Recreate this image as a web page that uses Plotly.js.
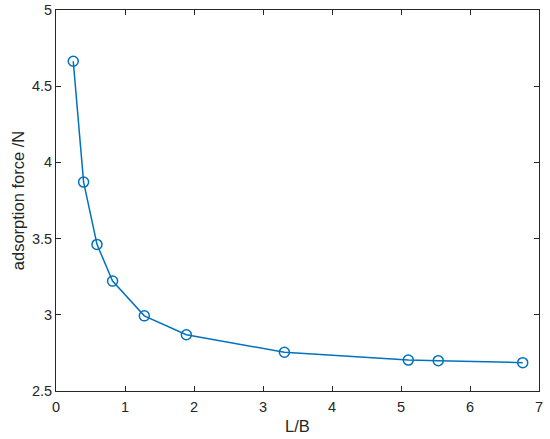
<!DOCTYPE html>
<html>
<head>
<meta charset="utf-8">
<script src="https://cdn.plot.ly/plotly-3.0.1.min.js"></script>
<style>html,body{margin:0;padding:0;background:#fff;}#chart{width:550px;height:439px;}</style>
</head>
<body>
<div id="chart"></div>
<script>
var ratioLB = [0.25, 0.40, 0.594, 0.82, 1.28, 1.889, 3.31, 5.106, 5.54, 6.764];
var adsorptionForce = [4.664, 3.871, 3.462, 3.221, 2.993, 2.869, 2.754, 2.703, 2.699, 2.686];
var xTicks = [0, 1, 2, 3, 4, 5, 6, 7];
var yTicks = [2.5, 3, 3.5, 4, 4.5, 5];
var yTickText = ['2.5', '3', '3.5', '4', '4.5', '5'];

var axisColor = '#262626';
var trace = {
  x: ratioLB,
  y: adsorptionForce,
  type: 'scatter',
  mode: 'lines+markers',
  line: {color: '#0072BD', width: 1.5},
  marker: {symbol: 'circle-open', size: 10, color: '#0072BD', line: {width: 1.5, color: '#0072BD'}},
  showlegend: false,
  hoverinfo: 'none'
};
var layout = {
  width: 550, height: 439,
  margin: {l: 56, r: 11, t: 10, b: 48},
  paper_bgcolor: '#ffffff', plot_bgcolor: '#ffffff',
  font: {family: 'Liberation Sans, Arial, sans-serif', size: 14.5, color: axisColor},
  xaxis: {
    range: [0, 7], tickvals: xTicks, ticktext: xTicks.map(String),
    showgrid: false, zeroline: false, showline: true, linecolor: axisColor, linewidth: 1,
    mirror: 'ticks', ticks: 'inside', ticklen: 5, tickwidth: 1, tickcolor: axisColor,
    ticklabelstandoff: 3,
    tickfont: {size: 14.5, color: axisColor},
    title: {text: 'L/B', font: {size: 16.5, color: axisColor}, standoff: 6}
  },
  yaxis: {
    range: [2.5, 5], tickvals: yTicks, ticktext: yTickText,
    showgrid: false, zeroline: false, showline: true, linecolor: axisColor, linewidth: 1,
    mirror: 'ticks', ticks: 'inside', ticklen: 5, tickwidth: 1, tickcolor: axisColor,
    tickfont: {size: 14.5, color: axisColor},
    title: {text: 'adsorption force /N', font: {size: 16.5, color: axisColor}, standoff: 3}
  }
};
Plotly.newPlot('chart', [trace], layout, {displayModeBar: false, staticPlot: true});
</script>
</body>
</html>
